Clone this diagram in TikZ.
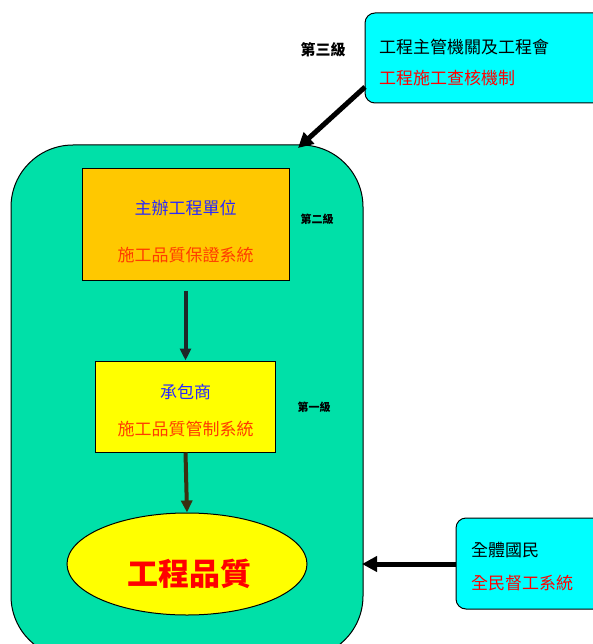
\documentclass[tikz,border=0pt]{standalone}
\usepackage{fontspec}
\setmainfont{Noto Sans CJK TC}
\usetikzlibrary{arrows.meta,shapes.geometric}
\definecolor{grn}{RGB}{0,224,168}
\definecolor{org}{RGB}{255,200,0}
\definecolor{ylw}{RGB}{255,255,0}
\definecolor{cyn}{RGB}{0,255,255}
\definecolor{txtblue}{RGB}{40,40,255}
\definecolor{txtorg}{RGB}{255,60,0}
\definecolor{txtred}{RGB}{255,0,0}
\definecolor{arrdark}{RGB}{30,40,40}
\definecolor{arrolive}{RGB}{58,48,16}
\tikzset{
  box/.style={draw=black, line width=1pt, inner sep=0pt},
  txt/.style={inner sep=0pt, font=\fontsize{17}{19}\selectfont},
  lvl/.style={inner sep=0pt, font=\bfseries\fontsize{11}{13}\selectfont},
  bigarr/.style={line width=5pt, -{Triangle[length=15pt,width=15pt]}},
  inarr/.style={line width=4pt, -{Triangle[length=12pt,width=11pt]}}
}
\begin{document}
\begin{tikzpicture}[x=1pt,y=-1pt]
\useasboundingbox (0,0) rectangle (593,644);
\clip (0,0) rectangle (593,644);
\fill[white] (0,0) rectangle (593,644);

% outer green rounded box
\node[box, fill=grn, rounded corners=62pt, minimum width=352pt, minimum height=513pt] (outer) at (187,401.5) {};

% top cyan box
\node[box, fill=cyn, rounded corners=10pt, minimum width=240pt, minimum height=90pt] (top) at (485,58) {};
\node[txt, anchor=west, text=black] (topa) at (379,47) {工程主管機關及工程會};
\node[txt, anchor=west, text=txtred] (topb) at (379,78) {工程施工查核機制};
\node[lvl, font=\bfseries\fontsize{15}{17}\selectfont] (l3) at (323,50) {第三級};

% bottom cyan box
\node[box, fill=cyn, rounded corners=10pt, minimum width=150pt, minimum height=91pt] (bot) at (531,563.5) {};
\node[txt, anchor=west, text=black] (bota) at (471,550) {全體國民};
\node[txt, anchor=west, text=txtred] (botb) at (471,583) {全民督工系統};

% orange box
\node[box, fill=org, minimum width=207pt, minimum height=111pt] (orange) at (185.5,224.5) {};
\node[txt, text=txtblue] (oa) at (185.5,208) {主辦工程單位};
\node[txt, text=txtorg] (ob) at (185.5,255) {施工品質保證系統};
\node[lvl] (l2) at (317,219) {第二級};

% yellow box
\node[box, fill=ylw, minimum width=180pt, minimum height=91pt] (yellow) at (185.5,406.5) {};
\node[txt, text=txtblue] (ya) at (185.5,392) {承包商};
\node[txt, text=txtorg] (yb) at (185.5,429) {施工品質管制系統};
\node[lvl] (l1) at (314,407) {第一級};

% ellipse
\node[box, ellipse, fill=ylw, minimum width=240pt, minimum height=102pt] (qual) at (187,564) {};
\node[inner sep=0pt, text=txtred, font=\bfseries\fontsize{31}{33}\selectfont] (qt) at (189,574) {工程品質};

% connectors
\coordinate (t1) at (365,87);
\coordinate (t2) at (298,148);
\draw[bigarr] (t1) -- (t2);
\coordinate (b1) at (456,564);
\coordinate (b2) at (362,564);
\draw[bigarr] (b1) -- (b2);
\draw[inarr, draw=arrdark, fill=arrdark] ([yshift=-10pt]orange.south) -- (yellow.north);
\draw[inarr, draw=arrolive, fill=arrolive] (yellow.south) -- (qual.north);
\end{tikzpicture}
\end{document}
